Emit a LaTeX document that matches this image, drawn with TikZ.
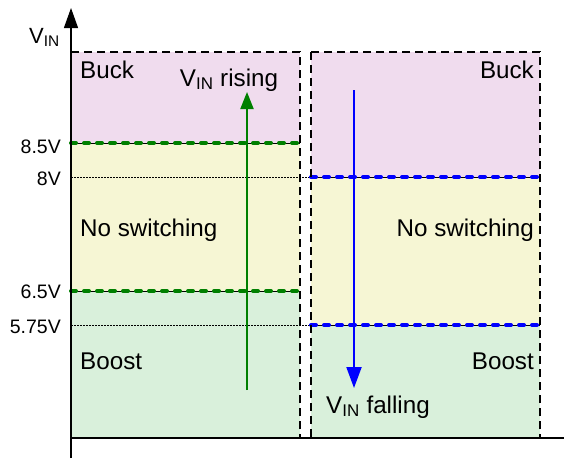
\documentclass[tikz,border=0pt]{standalone}
\usepackage{fontspec}
\setmainfont{Liberation Sans}
\usetikzlibrary{arrows.meta}
\definecolor{buckc}{RGB}{240,220,238}
\definecolor{noswc}{RGB}{246,246,212}
\definecolor{boostc}{RGB}{217,240,219}
\definecolor{grn}{RGB}{0,128,0}
\definecolor{blu}{RGB}{0,0,255}
\begin{document}
\begin{tikzpicture}[x=1pt,y=-1pt,
  lbl/.style={font=\fontsize{24.2}{27}\selectfont, inner sep=0pt},
  axl/.style={font=\fontsize{19.5}{22}\selectfont, inner sep=0pt, anchor=base east},
  boxb/.style={draw=black, dash pattern=on 8pt off 5pt, line width=1.4pt},
  gthr/.style={draw=grn, line width=4pt, line cap=round, dash pattern=on 5pt off 8pt},
  bthr/.style={draw=blu, line width=4pt, line cap=round, dash pattern=on 5pt off 8pt},
  dotl/.style={draw=black, line width=0.8pt, dash pattern=on 1.5pt off 1.5pt},
  base/.style={draw=black, line width=0.8pt}]
\useasboundingbox (0,0) rectangle (564,459);
% left column
\fill[buckc] (71,52) rectangle (300,143);
\fill[noswc] (71,143) rectangle (300,291);
\fill[boostc] (71,291) rectangle (300,438);
% right column
\fill[buckc] (311,52) rectangle (540,177);
\fill[noswc] (311,177) rectangle (540,325);
\fill[boostc] (311,325) rectangle (540,438);
% coordinates
\coordinate (ax0) at (71,458);
\coordinate (ax1) at (71,8);
\coordinate (xa0) at (71,438);
\coordinate (xa1) at (564,438);
\coordinate (l85a) at (71,143); \coordinate (l85b) at (300,143);
\coordinate (l65a) at (71,291); \coordinate (l65b) at (300,291);
\coordinate (l8a) at (71,177); \coordinate (l8b) at (311,177); \coordinate (l8c) at (540,177);
\coordinate (l575a) at (71,325); \coordinate (l575b) at (311,325); \coordinate (l575c) at (540,325);
% dotted thresholds
\draw[dotl] (l8a) -- (l8b);
\draw[dotl] (l575a) -- (l575b);
% region boundaries
\draw[base] (l85a) -- (l85b);
\draw[base] (l65a) -- (l65b);
\draw[base] (l8b) -- (l8c);
\draw[base] (l575b) -- (l575c);
\draw[gthr] (l85a) -- (l85b);
\draw[gthr] (l65a) -- (l65b);
\draw[bthr] (l8b) -- (l8c);
\draw[bthr] (l575b) -- (l575c);
% boxes
\draw[boxb] (71,52) rectangle (300,438);
\draw[boxb] (311,52) rectangle (540,438);
% axes
\draw[line width=1.3pt, -{Triangle[width=14pt,length=20pt]}] (ax0) -- (ax1);
\draw[line width=1.2pt] (xa0) -- (xa1);
% axis labels
\node[font=\fontsize{22}{26}\selectfont, inner sep=0pt, anchor=base west] (vin) at (29,43) {V\textsubscript{IN}};
\node[axl] (t85) at (61,153) {8.5V};
\node[axl] (t8) at (61,185) {8V};
\node[axl] (t65) at (61,298) {6.5V};
\node[axl] (t575) at (61,333) {5.75V};
% region labels
\node[lbl, anchor=base west] (buckL) at (80,78) {Buck};
\node[lbl, anchor=base west] (noswL) at (80,236) {No switching};
\node[lbl, anchor=base west] (boostL) at (80,369) {Boost};
\node[lbl, anchor=base east] (buckR) at (534,78) {Buck};
\node[lbl, anchor=base east] (noswR) at (534,236) {No switching};
\node[lbl, anchor=base east] (boostR) at (534,369) {Boost};
% arrows
\coordinate (ga0) at (247,390);
\coordinate (ga1) at (247,92);
\coordinate (ba0) at (354,90);
\coordinate (ba1) at (354,388);
\draw[grn, line width=2pt, -{Triangle[width=13pt,length=17pt]}] (ga0) -- (ga1);
\draw[blu, line width=2pt, -{Triangle[width=15pt,length=21pt]}] (ba0) -- (ba1);
\node[lbl, anchor=base] (rise) at (229,86) {V\textsubscript{IN} rising};
\node[lbl, anchor=base] (fall) at (378,413) {V\textsubscript{IN} falling};
\end{tikzpicture}
\end{document}
